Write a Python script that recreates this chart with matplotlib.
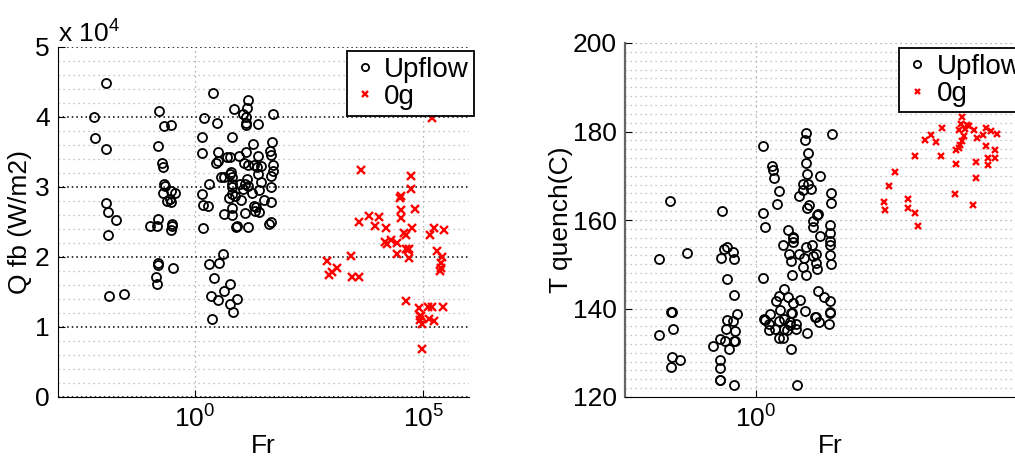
import matplotlib
matplotlib.use('Agg')
import matplotlib.pyplot as plt
import numpy as np
from matplotlib.ticker import MultipleLocator, NullLocator, FixedLocator, FuncFormatter

plt.rcParams['font.family'] = ['Liberation Sans', 'DejaVu Sans']
plt.rcParams['mathtext.fontset'] = 'custom'
plt.rcParams['mathtext.rm'] = 'Liberation Sans'
plt.rcParams['mathtext.it'] = 'Liberation Sans'

# ---- left panel: Q fb vs Fr (Fr given as log10 values) ----
up_q_logfr = np.array([
    -1.95, -2.21, -2.20, -1.95, -1.94, -1.91, -1.73, -1.91, -1.89, -1.56,
    -0.79, -0.68, -0.53, -0.80, -0.73, -0.71, -0.67, -0.66, -0.69, -0.53,
    -0.44, -0.62, -0.53, -0.54, -0.80, -0.98, -0.83, -0.50, -0.52, -0.50,
    -0.81, -0.81, -0.49, -0.86, -0.83,
    0.39, 0.19, 0.48, 0.15, 0.15, 0.30, 0.15, 0.17, 0.29, 0.18,
    0.61, 0.30, 0.52, 0.42, 0.77, 0.63, 0.34, 0.50, 0.91, 0.76, 0.83, 0.38,
    1.17, 1.14, 0.86, 1.06, 1.12, 1.12, 1.11, 1.38, 1.71, 0.80,
    1.68, 1.28, 0.51, 1.64, 1.67, 1.11, 1.39, 0.71, 0.77, 0.96,
    0.51, 0.46, 1.07, 1.16, 1.29, 1.45, 1.70, 1.36, 1.70, 1.39,
    1.67, 0.79, 0.77, 0.58, 0.64, 0.82, 1.13, 1.44, 0.82, 0.98,
    1.10, 1.17, 1.67, 0.80, 1.05, 1.40, 1.25, 0.81, 0.75, 0.88,
    1.01, 1.52, 1.67, 0.82, 1.30, 1.34, 1.31, 1.40, 1.09, 0.64,
    0.82, 0.90, 0.92, 1.15, 1.63, 1.67])
up_q = np.array([
    44800, 40000, 37000, 35500, 27700, 26500, 25300, 23100, 14500, 14700,
    40800, 38700, 38900, 35800, 33500, 32900, 30400, 30200, 29100, 29500,
    29200, 28000, 27800, 28300, 25400, 24400, 24500, 24700, 23800, 24400,
    19100, 18900, 18400, 17100, 16200,
    43500, 39900, 39100, 37200, 34900, 30500, 29000, 27500, 27300, 24200,
    20500, 19000, 19100, 17000, 16100, 15200, 14400, 13800, 14000, 13300, 12100, 11100,
    42500, 41300, 41100, 40500, 40000, 39200, 38800, 39000, 40400, 37100,
    36500, 36100, 35000, 35100, 34600, 35000, 34500, 34300, 34300, 34400,
    33700, 33400, 33500, 33200, 33100, 33000, 33100, 32800, 32300, 31900,
    31600, 32100, 31800, 31500, 31500, 31500, 31100, 30700, 30500, 30400,
    30500, 30100, 30000, 30000, 29700, 29600, 29100, 29000, 28500, 28700,
    28100, 28100, 27900, 27000, 27300, 27200, 26600, 26500, 26300, 26100,
    26000, 24300, 24400, 24300, 24700, 25000])

zg_q_logfr = np.array([
    3.64, 4.74, 4.74, 4.48, 4.50, 4.51, 4.50, 4.81, 3.80, 4.04,
    3.60, 3.95, 4.19, 4.58, 4.63, 4.76, 5.24, 5.45, 5.14, 4.16,
    4.21, 4.29, 4.42, 4.63, 4.66, 4.68, 4.43, 4.69, 5.30, 5.41,
    5.39, 5.39, 5.37, 3.42, 2.89, 3.12, 3.00, 2.94, 3.43, 3.60,
    4.61, 4.91, 5.11, 5.18, 5.42, 4.93, 4.95, 4.93, 5.12, 5.23,
    4.96, 4.96, 5.20])
zg_q = np.array([
    32500, 31600, 29700, 28500, 28700, 26700, 25600, 26800, 25900, 25700,
    25000, 24400, 24200, 23500, 23200, 24100, 24200, 23900, 23100, 22200,
    21800, 22400, 22000, 21200, 21000, 21100, 20500, 19800, 20900, 20000,
    19100, 18500, 18000, 20200, 19500, 18400, 17800, 17500, 17200, 17200,
    13700, 12700, 12800, 12900, 12900, 11600, 11600, 11000, 11100, 10800,
    10500, 6800, 39800])

# ---- right panel: T quench vs Fr ----
up_t_logfr = np.array([
    -1.88, -2.13, -1.51, -1.86, -1.84, -1.82, -2.12, -1.83, -1.66, -1.86,
    -0.75, -0.64, -0.70, -0.50, -0.77, -0.48, -0.64, -0.48, -0.42, -0.63,
    -0.50, -0.66, -0.46, -0.80, -0.68, -0.49, -0.46, -0.94, -0.59, -0.79,
    -0.80, -0.80, -0.78, -0.49,
    0.15, 1.09, 1.07, 1.67, 1.13, 1.10, 0.34, 0.37, 0.39, 1.11,
    1.40, 1.03, 1.13, 1.21, 1.02, 0.50, 0.93, 1.65, 0.46, 1.65,
    1.16, 1.12, 1.35, 1.33, 0.15, 1.24, 1.24, 1.62, 0.19, 0.70,
    1.62, 0.80, 0.81, 1.41, 1.63, 0.80, 1.63, 0.58, 1.09, 1.22,
    0.73, 0.95, 1.32, 1.63, 1.24, 1.06, 0.77, 1.64, 1.32, 1.02,
    1.34, 0.15, 0.79, 1.09, 0.61, 1.36, 0.50, 0.69, 1.49, 0.43,
    0.80, 0.97, 1.63, 0.53, 0.77, 0.78, 1.07, 1.63, 1.63, 0.30,
    0.17, 0.19, 0.62, 1.29, 1.31, 1.38, 1.59, 0.50, 0.74, 0.87,
    0.74, 0.28, 0.42, 0.29, 0.62, 0.67, 0.88, 1.12, 0.50, 0.60,
    0.77, 0.89])
up_t = np.array([
    164.4, 151.1, 152.5, 139.1, 139.1, 135.4, 133.9, 129.0, 128.4, 126.8,
    162.0, 154.0, 153.5, 152.8, 151.4, 151.1, 146.6, 143.1, 138.7, 137.5,
    137.2, 135.4, 135.0, 133.1, 132.7, 132.7, 132.7, 131.5, 130.8, 128.3,
    126.5, 123.8, 123.8, 122.6,
    176.7, 179.7, 178.1, 179.4, 175.1, 172.9, 172.2, 171.2, 169.6, 170.5,
    169.9, 168.2, 168.1, 166.9, 166.7, 166.5, 165.5, 166.2, 163.6, 163.8,
    163.3, 162.6, 161.3, 161.2, 161.6, 159.8, 158.5, 158.9, 158.4, 157.7,
    157.0, 156.1, 156.0, 156.3, 155.3, 155.0, 154.3, 154.3, 154.0, 154.4,
    152.3, 152.3, 152.3, 152.2, 151.9, 151.4, 150.7, 150.1, 150.2, 149.4,
    148.9, 146.9, 147.5, 147.5, 144.4, 144.0, 142.9, 142.6, 142.7, 141.7,
    141.3, 141.9, 141.8, 139.6, 139.0, 138.9, 139.4, 139.3, 139.0, 138.7,
    137.6, 137.5, 137.6, 138.0, 138.1, 137.0, 136.6, 137.1, 137.0, 136.5,
    136.3, 136.4, 135.4, 135.1, 135.3, 135.1, 135.4, 134.4, 133.3, 133.3,
    130.9, 122.6])

zg_t_logfr = np.array([
    4.52, 4.48, 4.63, 4.57, 4.44, 4.66, 4.78, 4.08, 5.04, 5.14,
    5.28, 4.96, 4.84, 4.55, 3.84, 3.69, 3.93, 4.50, 4.47, 4.44,
    4.37, 5.04, 5.23, 3.49, 4.05, 5.07, 5.23, 4.81, 5.07, 4.37,
    4.81, 3.05, 2.92, 4.36, 2.80, 2.82, 3.33, 3.32, 3.49, 4.76,
    3.54])
zg_t = np.array([
    183.2, 181.8, 181.5, 180.5, 180.3, 181.2, 180.3, 180.9, 180.9, 180.2,
    179.4, 179.1, 178.5, 179.0, 179.3, 178.1, 177.6, 177.9, 176.9, 176.2,
    175.8, 176.7, 175.8, 174.4, 174.5, 174.1, 174.0, 173.1, 172.4, 172.6,
    169.6, 170.8, 167.6, 165.9, 164.1, 162.3, 164.7, 162.6, 161.6, 163.5,
    158.6])

FS = 19

fig = plt.figure(figsize=(10.15, 4.57), dpi=100)
ax1 = fig.add_axes([58 / 1015, 60 / 457, 411 / 1015, 350 / 457])
ax2 = fig.add_axes([625 / 1015, 60 / 457, 411 / 1015, 354 / 457])


def style(ax):
    ax.set_xscale('log')
    for s in ('top', 'right'):
        ax.spines[s].set_visible(False)
    ax.set_axisbelow(True)
    ax.tick_params(which='major', direction='in', length=5, labelsize=FS, pad=6)
    ax.tick_params(which='minor', length=0)
    ax.xaxis.set_minor_locator(NullLocator())
    ax.xaxis.set_major_formatter(FuncFormatter(lambda v, p: r'$10^{%d}$' % round(np.log10(v))))
    ax.grid(which='minor', axis='y', linestyle=(0, (1, 3)), color='#b4b4b4', linewidth=0.9)
    ax.grid(which='major', axis='x', linestyle=(0, (1, 3)), color='#9a9a9a', linewidth=0.9)


def add_legend(ax, anchor):
    leg = ax.legend(loc='upper left', bbox_to_anchor=anchor, borderaxespad=0,
                    fontsize=FS + 1, handlelength=0.9, handletextpad=0.25, borderpad=0.2,
                    labelspacing=0.05, fancybox=False, framealpha=1, edgecolor='k',
                    markerscale=0.8)
    leg.get_frame().set_linewidth(1.3)
    return leg


# left
style(ax1)
ax1.plot(10.0 ** up_q_logfr, up_q, 'o', mfc='none', mec='k', ms=6.5, mew=1.3, label='Upflow')
ax1.plot(10.0 ** zg_q_logfr, zg_q, 'x', color='red', ms=5.5, mew=1.7, label='0g')
ax1.set_xlim(1e-3, 1e6)
ax1.set_ylim(0, 5e4)
ax1.xaxis.set_major_locator(FixedLocator([1, 1e5]))
ax1.yaxis.set_major_locator(MultipleLocator(1e4))
ax1.yaxis.set_minor_locator(MultipleLocator(2e3))
ax1.yaxis.set_major_formatter(FuncFormatter(lambda v, p: '%d' % round(v / 1e4)))
ax1.grid(which='major', axis='y', linestyle=(0, (1, 2)), color='k', linewidth=1.1)
ax1.set_xlabel('Fr', fontsize=FS, labelpad=1)
ax1.set_ylabel('Q fb (W/m2)', fontsize=FS, labelpad=2)
ax1.text(0, 1.014, r'x 10$^4$', transform=ax1.transAxes, fontsize=FS, va='baseline')
add_legend(ax1, (0.702, 0.988))

# right
style(ax2)
ax2.plot(10.0 ** up_t_logfr, up_t, 'o', mfc='none', mec='k', ms=6.5, mew=1.3, label='Upflow')
ax2.plot(10.0 ** zg_t_logfr, zg_t, 'x', color='red', ms=4.5, mew=1.7, label='0g')
ax2.set_xlim(10 ** -2.87, 10 ** 6.13)
ax2.set_ylim(120, 200)
ax2.xaxis.set_major_locator(FixedLocator([1]))
ax2.yaxis.set_major_locator(MultipleLocator(20))
ax2.yaxis.set_minor_locator(MultipleLocator(2))
ax2.grid(which='major', axis='y', linestyle=(0, (1, 3)), color='#9a9a9a', linewidth=0.9)
ax2.spines['left'].set_color('#666666')
ax2.spines['left'].set_linewidth(1.6)
ax2.set_xlabel('Fr', fontsize=FS, labelpad=1)
ax2.set_ylabel('T quench(C)', fontsize=FS, labelpad=0)
add_legend(ax2, (0.667, 0.986))

fig.savefig('out.png', dpi=100)
